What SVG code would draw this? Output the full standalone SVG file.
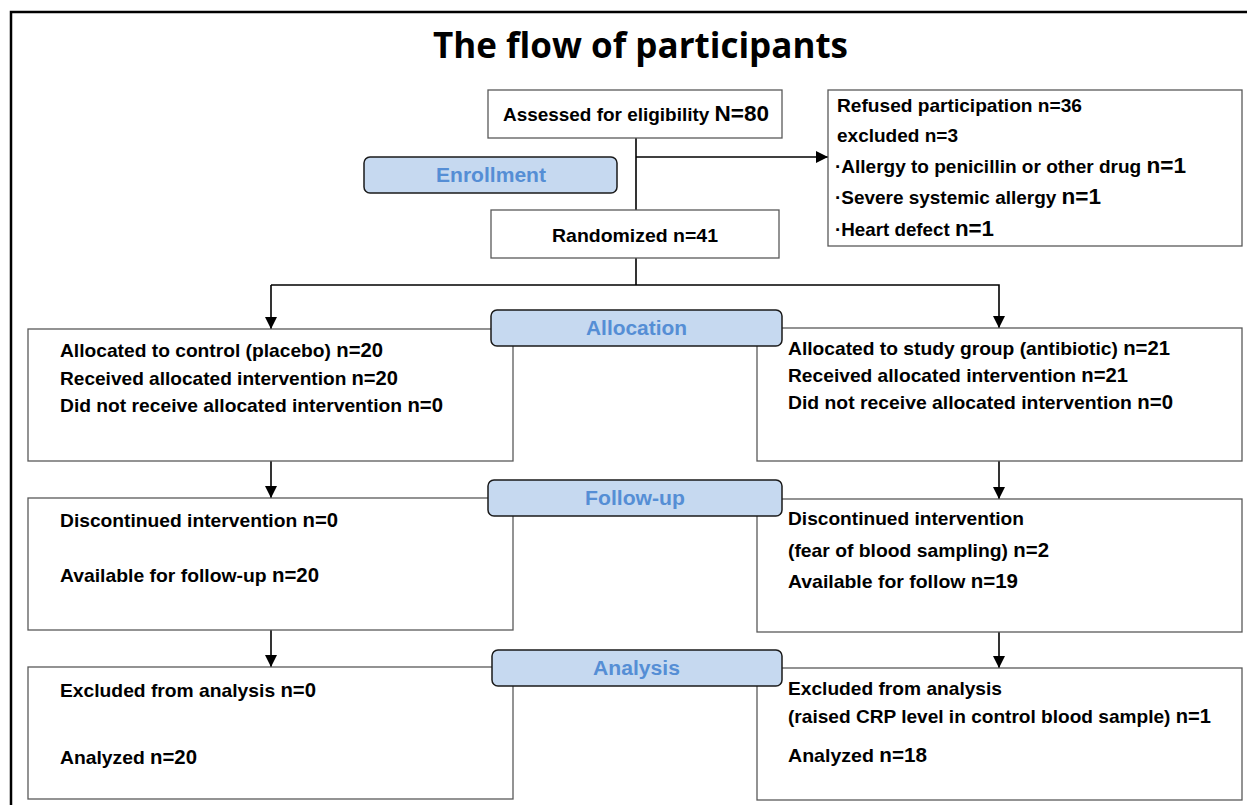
<svg xmlns="http://www.w3.org/2000/svg" width="1247" height="805" viewBox="0 0 1247 805">
<style>
.frame{fill:none;stroke:#000;stroke-width:2.5}
.box{fill:#fff;stroke:#595959;stroke-width:1.3}
.lab{fill:#c6d9f0;stroke:#1a1a1a;stroke-width:1.5}
.labt{font-family:"Liberation Sans",Arial,sans-serif;font-weight:bold;font-size:20px;fill:#558ed5}
.t{font-family:"Liberation Sans",Arial,sans-serif;font-weight:bold;font-size:18.5px;fill:#000}
.n{font-size:19.5px}
.nb{font-size:22px}
.ln{fill:none;stroke:#000;stroke-width:1.6}
.title{font-family:"Open Sans","Liberation Sans",sans-serif;font-weight:bold;font-size:35px;fill:#000}
</style>
<defs>
<marker id="ah" markerWidth="12" markerHeight="12" viewBox="0 0 12 12" refX="12" refY="6" orient="auto" markerUnits="userSpaceOnUse">
<path d="M0,0 L12,6 L0,12 z" fill="#000"/>
</marker>
</defs>
<rect x="0" y="0" width="1247" height="805" fill="#fff"/>
<rect class="frame" x="11" y="12" width="1260" height="820"/>
<text class="title" x="433" y="58" textLength="415" lengthAdjust="spacingAndGlyphs">The flow of participants</text>

<g id="connectors">
<line class="ln" x1="636" y1="138" x2="636" y2="210"/>
<line class="ln" x1="636" y1="157" x2="828" y2="157" marker-end="url(#ah)"/>
<line class="ln" x1="636" y1="258" x2="636" y2="285"/>
<polyline class="ln" points="271,285 999,285 999,328" marker-end="url(#ah)"/>
<line class="ln" x1="271" y1="285" x2="271" y2="329" marker-end="url(#ah)"/>
<line class="ln" x1="271" y1="461" x2="271" y2="498" marker-end="url(#ah)"/>
<line class="ln" x1="999" y1="461" x2="999" y2="499" marker-end="url(#ah)"/>
<line class="ln" x1="271" y1="630" x2="271" y2="667" marker-end="url(#ah)"/>
<line class="ln" x1="999" y1="632" x2="999" y2="668" marker-end="url(#ah)"/>
</g>

<g id="assessed">
<rect class="box" x="488" y="90" width="294" height="48"/>
<text class="t" x="503" y="121" textLength="266" lengthAdjust="spacingAndGlyphs">Assessed for eligibility <tspan class="nb">N=80</tspan></text>
</g>

<g id="enrollment">
<rect class="lab" x="364" y="157" width="253" height="36" rx="6"/>
<text class="labt" x="436" y="182" textLength="110" lengthAdjust="spacingAndGlyphs">Enrollment</text>
</g>

<g id="randomized">
<rect class="box" x="491" y="210" width="288" height="48"/>
<text class="t" x="552" y="242" textLength="166" lengthAdjust="spacingAndGlyphs">Randomized n=41</text>
</g>

<g id="excluded">
<rect class="box" x="828" y="90" width="414" height="156"/>
<text class="t" x="837" y="112" textLength="245" lengthAdjust="spacingAndGlyphs">Refused participation n=36</text>
<text class="t" x="837" y="142" textLength="121" lengthAdjust="spacingAndGlyphs">excluded n=3</text>
<text class="t" x="835" y="173" textLength="351" lengthAdjust="spacingAndGlyphs">·Allergy to penicillin or other drug <tspan class="nb">n=1</tspan></text>
<text class="t" x="835" y="204" textLength="266" lengthAdjust="spacingAndGlyphs">·Severe systemic allergy <tspan class="nb">n=1</tspan></text>
<text class="t" x="835" y="236" textLength="159" lengthAdjust="spacingAndGlyphs">·Heart defect <tspan class="nb">n=1</tspan></text>
</g>

<g id="alloc-control">
<rect class="box" x="28" y="329" width="485" height="132"/>
<text class="t" x="60" y="357" textLength="323" lengthAdjust="spacingAndGlyphs">Allocated to control (placebo) <tspan class="n">n=20</tspan></text>
<text class="t" x="60" y="385" textLength="338" lengthAdjust="spacingAndGlyphs">Received allocated intervention <tspan class="n">n=20</tspan></text>
<text class="t" x="60" y="412" textLength="383" lengthAdjust="spacingAndGlyphs">Did not receive allocated intervention <tspan class="n">n=0</tspan></text>
</g>

<g id="alloc-study">
<rect class="box" x="757" y="328" width="485" height="133"/>
<text class="t" x="788" y="355" textLength="382" lengthAdjust="spacingAndGlyphs">Allocated to study group (antibiotic) <tspan class="n">n=21</tspan></text>
<text class="t" x="788" y="382" textLength="340" lengthAdjust="spacingAndGlyphs">Received allocated intervention <tspan class="n">n=21</tspan></text>
<text class="t" x="788" y="409" textLength="385" lengthAdjust="spacingAndGlyphs">Did not receive allocated intervention <tspan class="n">n=0</tspan></text>
</g>

<g id="allocation">
<rect class="lab" x="491" y="310" width="291" height="36" rx="6"/>
<text class="labt" x="586" y="335" textLength="101" lengthAdjust="spacingAndGlyphs">Allocation</text>
</g>

<g id="follow-control">
<rect class="box" x="28" y="498" width="485" height="132"/>
<text class="t" x="60" y="527" textLength="278" lengthAdjust="spacingAndGlyphs">Discontinued intervention <tspan class="n">n=0</tspan></text>
<text class="t" x="60" y="582" textLength="259" lengthAdjust="spacingAndGlyphs">Available for follow-up <tspan class="n">n=20</tspan></text>
</g>

<g id="follow-study">
<rect class="box" x="757" y="499" width="485" height="133"/>
<text class="t" x="788" y="525" textLength="236" lengthAdjust="spacingAndGlyphs">Discontinued intervention</text>
<text class="t" x="788" y="557" textLength="261" lengthAdjust="spacingAndGlyphs">(fear of blood sampling) <tspan class="n">n=2</tspan></text>
<text class="t" x="788" y="588" textLength="230" lengthAdjust="spacingAndGlyphs">Available for follow <tspan class="n">n=19</tspan></text>
</g>

<g id="followup">
<rect class="lab" x="488" y="480" width="294" height="36" rx="6"/>
<text class="labt" x="585" y="505" textLength="100" lengthAdjust="spacingAndGlyphs">Follow-up</text>
</g>

<g id="analysis-control">
<rect class="box" x="28" y="667" width="485" height="132"/>
<text class="t" x="60" y="697" textLength="256" lengthAdjust="spacingAndGlyphs">Excluded from analysis <tspan class="n">n=0</tspan></text>
<text class="t" x="60" y="764" textLength="137" lengthAdjust="spacingAndGlyphs">Analyzed <tspan class="n">n=20</tspan></text>
</g>

<g id="analysis-study">
<rect class="box" x="757" y="668" width="485" height="132"/>
<text class="t" x="788" y="695" textLength="214" lengthAdjust="spacingAndGlyphs">Excluded from analysis</text>
<text class="t" x="788" y="723" textLength="423" lengthAdjust="spacingAndGlyphs">(raised CRP level in control blood sample) <tspan class="n">n=1</tspan></text>
<text class="t" x="788" y="762" textLength="139" lengthAdjust="spacingAndGlyphs">Analyzed <tspan class="n">n=18</tspan></text>
</g>

<g id="analysis">
<rect class="lab" x="492" y="650" width="290" height="36" rx="6"/>
<text class="labt" x="593" y="675" textLength="87" lengthAdjust="spacingAndGlyphs">Analysis</text>
</g>
</svg>
